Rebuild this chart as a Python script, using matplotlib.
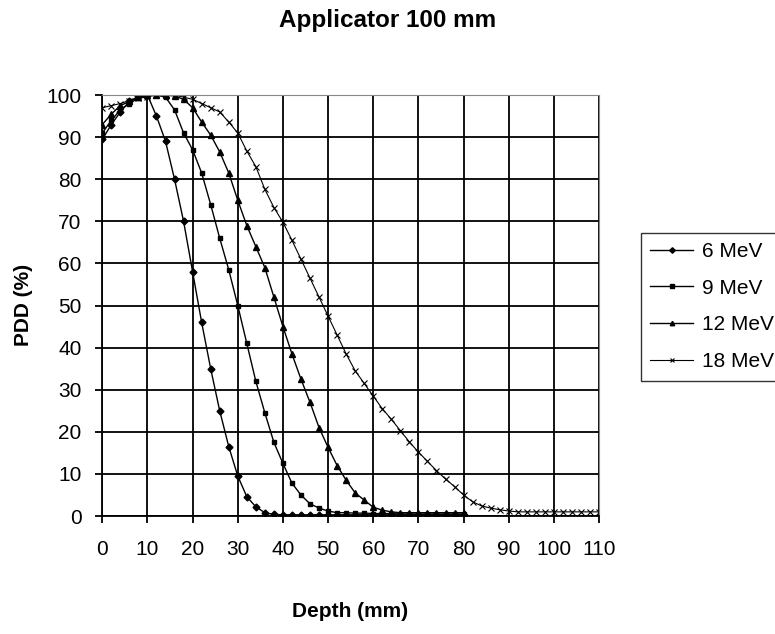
import numpy as np
import matplotlib.pyplot as plt

plt.rcParams['font.family'] = ['Liberation Sans', 'DejaVu Sans']

# depth (mm) and PDD (%)
depth_6 = list(range(0, 82, 2))
pdd_6 = [89.5, 93, 96, 98.5, 99.7, 100, 95, 89, 80, 70, 58, 46, 35, 25, 16.5, 9.5, 4.6, 2.2, 0.8, 0.4,
         0.3, 0.3, 0.3, 0.3, 0.3, 0.3, 0.3, 0.3, 0.3, 0.3, 0.3, 0.3, 0.3, 0.3, 0.3, 0.3, 0.3, 0.3, 0.3, 0.3, 0.3]

depth_9 = list(range(0, 82, 2))
pdd_9 = [91, 94, 96.5, 98, 99.3, 100, 100, 99.5, 96.5, 91, 87, 81.5, 74, 66, 58.5, 50, 41, 32, 24.5, 17.5,
         12.5, 7.8, 5, 2.9, 1.9, 1.2, 0.8, 0.8, 0.7, 0.7, 0.6, 0.6, 0.6, 0.5, 0.5, 0.5, 0.5, 0.5, 0.5, 0.5, 0.5]

depth_12 = list(range(0, 82, 2))
pdd_12 = [93, 95.5, 97.5, 98.5, 99.5, 100, 100, 100, 99.8, 99, 97, 93.6, 90.5, 86.5, 81.5, 75, 69, 64, 59, 52,
          45, 38.5, 32.5, 27, 21, 16.3, 12, 8.5, 5.5, 3.8, 2.1, 1.4, 1, 0.8, 0.8, 0.8, 0.8, 0.8, 0.8, 0.8, 0.8]

depth_18 = list(range(0, 112, 2))
pdd_18 = [97, 97.5, 98, 98.7, 99.2, 99.6, 100, 100, 100, 99.5, 99, 98, 97, 96, 93.6, 91, 86.7, 83, 77.6, 73.3,
          69.8, 65.5, 61, 56.5, 52, 47.5, 43, 38.5, 34.5, 31.5, 28.5, 25.5, 23, 20.3, 17.6, 15.2, 13, 10.8, 8.8, 7,
          5, 3.4, 2.4, 1.9, 1.5, 1.2, 1.0, 1.0, 1.0, 1.0, 1.0, 1.0, 1.0, 1.0, 1.0, 1.0]

fig = plt.figure(figsize=(7.75, 6.34), dpi=100)
ax = fig.add_axes([0.132, 0.186, 0.641, 0.664])

ax.plot(depth_6, pdd_6, color='black', lw=1, marker='D', ms=3.5, label='6 MeV')
ax.plot(depth_9, pdd_9, color='black', lw=1, marker='s', ms=3.5, label='9 MeV')
ax.plot(depth_12, pdd_12, color='black', lw=1, marker='^', ms=4, label='12 MeV')
ax.plot(depth_18, pdd_18, color='black', lw=0.8, marker='x', ms=4, mew=0.8, label='18 MeV')

ax.set_xlim(0, 110)
ax.set_ylim(0, 100)
ax.set_xticks(np.arange(0, 111, 10))
ax.set_yticks(np.arange(0, 101, 10))
ax.grid(True, color='black', lw=1.3)
ax.tick_params(labelsize=15, length=5, width=1.3, color='black')
ax.tick_params(axis='x', pad=12)
ax.tick_params(axis='y', pad=10)
for s in ['top', 'right']:
    ax.spines[s].set_color('#888888')
for s in ['left', 'bottom']:
    ax.spines[s].set_linewidth(1.3)

fig.text(0.50, 0.957, 'Applicator 100 mm', ha='center', va='baseline', fontsize=17.5, fontweight='bold')
fig.text(0.452, 0.036, 'Depth (mm)', ha='center', va='center', fontsize=15, fontweight='bold')
fig.text(0.030, 0.519, 'PDD (%)', ha='center', va='center', rotation=90, fontsize=15, fontweight='bold')

leg = fig.legend(loc='upper left', bbox_to_anchor=(0.827, 0.633), frameon=True, fancybox=False,
                 fontsize=15, handlelength=2.07, handletextpad=0.43, labelspacing=0.85, borderpad=0.45,
                 borderaxespad=0, markerscale=0.8)
leg.get_frame().set_edgecolor('black')
leg.get_frame().set_linewidth(1)

plt.savefig('out.png', dpi=100)
